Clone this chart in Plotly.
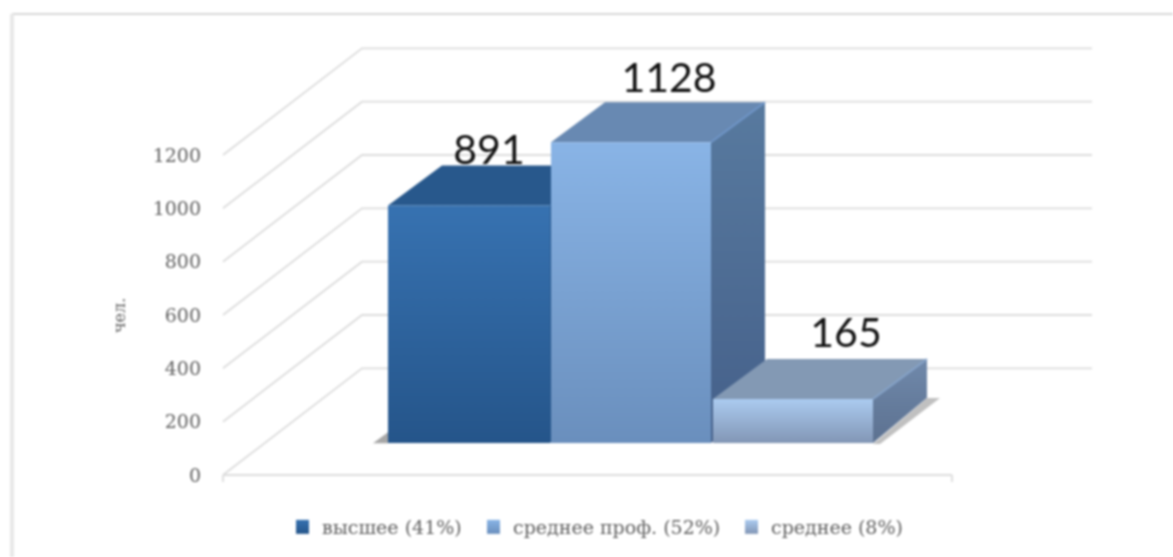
import plotly.graph_objects as go

# ---- data ----
categories = ["высшее (41%)", "среднее проф. (52%)", "среднее (8%)"]
values = [891, 1128, 165]
y_ticks = [0, 200, 400, 600, 800, 1000, 1200]
y_title = "чел."

# ---- pseudo-3D projection / layout constants ----
W, H = 1173, 557
PX = 320 / 1200            # pixels per value unit
Y0_PX = 475                # pixel row of value 0 on the front plane
WALL_DX, WALL_DY = 139, 400   # oblique offset front -> back wall (px, units)
FLOOR_X0, FLOOR_X1 = 223, 952
BAR_LEFT, BAR_W = 388, 162
BAR_BASE = 120             # floor lift of bars, units
BAR_DX, BAR_DY = 54, 150   # bar depth (px, units)
SIDE_RISE = 20             # extra rise of a side face's lower back corner, units
LABEL_OFFSET = [(20, 193), (37, 225), (52, 235)]
LEGEND_X = [296, 487, 745]

front_cols = [("#25558a", "#3772b1"), ("#6a8fbd", "#89b4e6"), ("#8296b5", "#abcbf0")]
top_cols = ["#28588c", "#6889b2", "#8399b4"]
side_cols = [("#25558a", "#28588c"), ("#45608a", "#587a9f"), ("#5c7190", "#7089ab")]
edge_cols = ["#2d6098", "#7096c8", "#86a3c8"]
GRID = "#dcdcdc"
TXT = "#606060"
SERIF = "DejaVu Serif"

fig = go.Figure()


def line(xs, ys, color=GRID, width=1.8):
    fig.add_trace(go.Scatter(x=xs, y=ys, mode="lines", line=dict(color=color, width=width),
                             showlegend=False, hoverinfo="skip"))


def face(xs, ys, color=None, grad=None):
    kw = dict(fill="toself", mode="none", showlegend=False, hoverinfo="skip",
              x=xs + xs[:1], y=ys + ys[:1])
    if grad:
        kw["fillgradient"] = dict(type="vertical", colorscale=[[0, grad[0]], [1, grad[1]]])
    else:
        kw["fillcolor"] = color
    fig.add_trace(go.Scatter(**kw))


# grid: back wall lines, diagonal side-wall lines, floor edge
for t in y_ticks:
    line([FLOOR_X0, FLOOR_X0 + WALL_DX, 1092], [t, t + WALL_DY, t + WALL_DY])
line([FLOOR_X0, FLOOR_X1], [0, 0], width=2)
line([FLOOR_X0, FLOOR_X0], [0, -26])
line([FLOOR_X1, FLOOR_X1], [0, -26])

lefts = [BAR_LEFT, BAR_LEFT + BAR_W + 1, BAR_LEFT + 2 * BAR_W + 1]
rights = [lefts[0] + BAR_W, lefts[1] + BAR_W - 2, lefts[2] + BAR_W - 2]

# shadows
x1 = lefts[0]
face([x1 - 15, x1, x1], [BAR_BASE - 1, BAR_BASE + 40, BAR_BASE - 1], color="rgba(130,130,130,0.7)")
x3 = rights[2]
face([x3, x3 + BAR_DX, x3 + BAR_DX + 13, x3 + 7],
     [BAR_BASE - 4, BAR_BASE + BAR_DY + SIDE_RISE - 1, BAR_BASE + BAR_DY + SIDE_RISE - 1, BAR_BASE - 4],
     color="rgba(150,150,150,0.6)")

# bars drawn back to front, left to right
for i, v in enumerate(values):
    l, r = lefts[i], rights[i]
    base, top = BAR_BASE, BAR_BASE + v
    face([r, r + BAR_DX, r + BAR_DX, r],
         [base, base + BAR_DY + SIDE_RISE, top + BAR_DY, top], grad=side_cols[i])
    face([l, l + BAR_DX, r + BAR_DX, r], [top, top + BAR_DY, top + BAR_DY, top], color=top_cols[i])
    line([r, r + BAR_DX], [top, top + BAR_DY], color=edge_cols[i], width=2)
    face([l, r, r, l], [base, base, top, top], grad=front_cols[i])

# value labels
fig.add_trace(go.Scatter(
    x=[lefts[i] + BAR_W / 2 + LABEL_OFFSET[i][0] for i in range(3)],
    y=[values[i] + BAR_BASE + LABEL_OFFSET[i][1] for i in range(3)],
    mode="text", text=[str(v) for v in values], textposition="middle center",
    textfont=dict(family="Lato", size=41, color="#111111"),
    showlegend=False, hoverinfo="skip"))

# legend entries: one small legend per entry so each can sit at its own place
legend_names = ["legend", "legend2", "legend3"]
legends = {}
for name, c, ln, lx in zip(categories, front_cols, legend_names, LEGEND_X):
    fig.add_trace(go.Scatter(x=[None], y=[None], mode="markers", name=name, legend=ln,
                             marker=dict(symbol="square", size=14, color=c[1],
                                         gradient=dict(type="vertical", color=c[0]))))
    legends[ln] = dict(orientation="h", x=lx / W, xanchor="left",
                       y=1 - 527 / H, yanchor="middle",
                       font=dict(family=SERIF, size=19, color=TXT),
                       itemwidth=30, indentation=-14, bgcolor="rgba(0,0,0,0)")

fig.add_annotation(text=y_title, textangle=-90, x=119, y=(Y0_PX - 316) / PX, xref="x", yref="y",
                   showarrow=False, font=dict(family=SERIF, size=16, color=TXT))

# outer frame
fig.add_shape(type="line", x0=12, x1=1173, y0=(Y0_PX - 14) / PX, y1=(Y0_PX - 14) / PX,
              line=dict(color="#d8d8d8", width=2), layer="below")
fig.add_shape(type="line", x0=12, x1=12, y0=(Y0_PX - 14) / PX, y1=(Y0_PX - 557) / PX,
              line=dict(color="#e8e8e8", width=4), layer="below")

fig.update_layout(
    width=W, height=H, margin=dict(l=0, r=0, t=0, b=0),
    paper_bgcolor="white", plot_bgcolor="white",
    font=dict(family=SERIF, color=TXT),
    xaxis=dict(range=[0, W], visible=False, domain=[0, 1], fixedrange=True),
    yaxis=dict(range=[(Y0_PX - H) / PX, Y0_PX / PX], domain=[0, 1], anchor="free",
               position=201 / W, tickvals=y_ticks, showgrid=False, zeroline=False,
               showline=False, ticks="", automargin=False, fixedrange=True,
               tickfont=dict(family=SERIF, size=19, color=TXT)),
    hovermode=False,
    **legends,
)

fig.write_html("out.html", config=dict(displayModeBar=False),
               post_script="document.body.style.margin='0';document.body.style.overflow='hidden';"
                           "document.querySelector('.plotly-graph-div').style.filter='blur(0.8px)';")
